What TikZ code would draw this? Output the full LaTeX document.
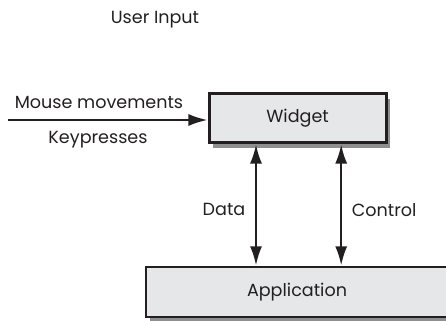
\documentclass[tikz,border=0pt]{standalone}
\usepackage{fontspec}
\setmainfont{Poppins}
\usetikzlibrary{arrows.meta,shadows}
\definecolor{boxfill}{HTML}{E6E7E8}
\definecolor{ink}{HTML}{231F20}

\begin{document}
\begin{tikzpicture}[every node/.style={text=ink, font=\fontsize{12.5}{14}\selectfont},
        partbox/.style={draw=ink, line width=2pt, fill=boxfill, inner sep=0pt,
            drop shadow={shadow xshift=0.1cm, shadow yshift=-0.12cm, fill=black!55, opacity=0.8}},
        flow/.style={line width=1.7pt, draw=ink, -{Latex[length=0.48cm, width=0.3cm]}},
        twoway/.style={line width=1.7pt, draw=ink, {Latex[length=0.48cm, width=0.3cm]}-{Latex[length=0.48cm, width=0.3cm]}}]
        \useasboundingbox (0,0) rectangle (11.15,8);

        \node (title) at (3.875,7.5) {User Input};

        \node[partbox, minimum width=4.425cm, minimum height=1.225cm] (widget) at (7.44,5.04) {Widget};
        \node[partbox, minimum width=7.55cm, minimum height=1.25cm] (app) at (7.425,0.7) {Application};

        \coordinate (src) at (0.2,5.0);
        \draw[flow] (src) -- (src -| widget.west);
        \node (mouse) at (2.475,5.43) {Mouse movements};
        \node (keys) at (2.45,4.5) {Keypresses};

        \draw[twoway] ([xshift=-1.04cm]widget.south) -- ([xshift=-1.04cm]widget.south |- app.north)
            node[midway, left=0.12cm, yshift=-0.12cm] (data) {Data};
        \draw[twoway] ([xshift=1.09cm]widget.south) -- ([xshift=1.09cm]widget.south |- app.north)
            node[midway, right=0.12cm, yshift=-0.12cm] (ctrl) {Control};
    \end{tikzpicture}
\end{document}
